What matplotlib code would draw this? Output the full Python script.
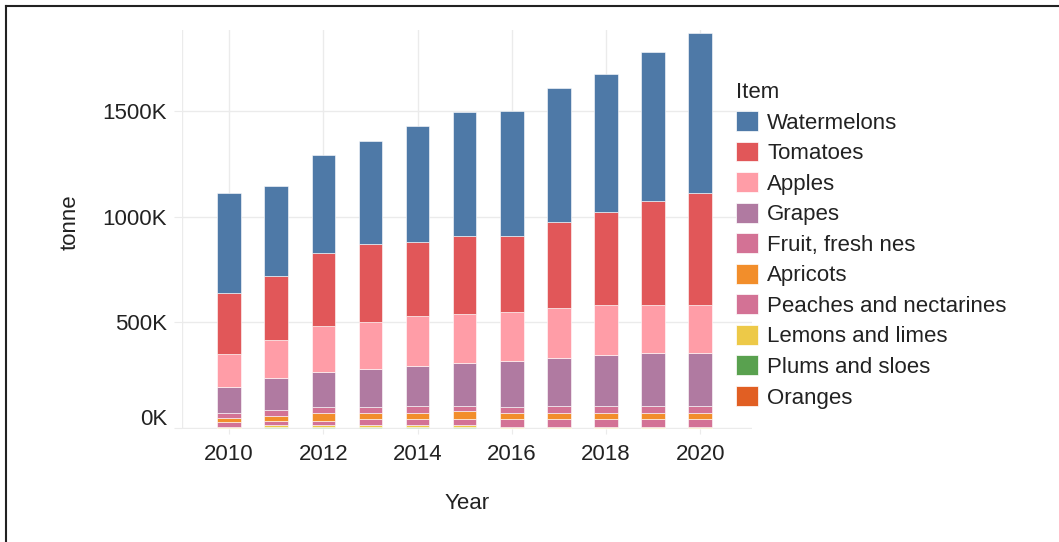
import numpy as np
import matplotlib
matplotlib.use("Agg")
import matplotlib.pyplot as plt
from matplotlib.patches import Patch
from matplotlib.lines import Line2D
from matplotlib.ticker import FuncFormatter
import matplotlib.transforms as mtransforms

plt.rcParams['font.family'] = ['Liberation Sans', 'DejaVu Sans']

# values in thousand tonnes
years = [2010, 2011, 2012, 2013, 2014, 2015, 2016, 2017, 2018, 2019, 2020]
watermelons = [476, 426, 464, 487, 550, 590, 592, 635, 650, 707, 757]
tomatoes = [288, 303, 346, 368, 348, 368, 360, 404, 441, 491, 528]
apples = [159, 180, 216, 224, 238, 230, 230, 238, 238, 230, 230]
grapes = [123, 151, 166, 180, 188, 204, 218, 226, 240, 248, 248]
fruit_nes = [21, 29, 30, 30, 36, 26, 30, 36, 36, 36, 36]
apricots = [21, 22, 35, 28, 28, 38, 28, 28, 28, 28, 28]
peaches = [21, 20, 20, 27, 27, 27, 35, 35, 35, 35, 35]
lemons = [4, 8, 8, 8, 8, 8, 5, 5, 5, 5, 5]
plums = [0.5, 5, 5, 5, 5, 5, 0, 0, 0, 0, 0]
oranges = [1, 1, 1, 1, 1, 1, 1, 1, 1, 1, 1]

items = ['Watermelons', 'Tomatoes', 'Apples', 'Grapes', 'Fruit, fresh nes', 'Apricots',
         'Peaches and nectarines', 'Lemons and limes', 'Plums and sloes', 'Oranges']
series = [watermelons, tomatoes, apples, grapes, fruit_nes, apricots,
          peaches, lemons, plums, oranges]
colors = ['#4e79a7', '#e15759', '#ff9da7', '#b07aa1', '#d37295', '#f28e2b',
          '#d37295', '#edc948', '#59a14f', '#e15f23']

fig = plt.figure(figsize=(10.59, 5.42), dpi=100)
ax = fig.add_axes([182 / 1059, 1 - 429 / 542, (752 - 182) / 1059, (429 - 30) / 542])

x = np.array(years)
bottom = np.zeros(len(years))
# stack from the bottom (Oranges) up to Watermelons
for name, vals, col in reversed(list(zip(items, series, colors))):
    v = np.array(vals, dtype=float) * 1000
    ax.bar(x, v, width=0.5, bottom=bottom, color=col, edgecolor='white',
           linewidth=0.4, zorder=2)
    bottom += v

ax.set_xlim(2009, 2021.1)
ax.set_ylim(-5000, 1884000)
ax.set_xticks([2010, 2012, 2014, 2016, 2018, 2020])
ax.set_yticks([0, 500000, 1000000, 1500000])
ax.yaxis.set_major_formatter(FuncFormatter(lambda v, p: f"{v / 1000:.0f}K"))
ax.grid(True, color='#ebebeb', linewidth=1, zorder=0)
ax.axvline(2009, color='#ebebeb', linewidth=1, zorder=0)
for s in ax.spines.values():
    s.set_visible(False)
ax.tick_params(axis='y', length=5.8, color='#ebebeb', pad=5, labelsize=16, labelcolor='#222222')
ax.tick_params(axis='x', length=3.6, color='#ebebeb', pad=7, labelsize=16, labelcolor='#222222')

# the 0K label sits a bit above the baseline in the original
lab0 = ax.get_yticklabels()[0]
lab0.set_transform(lab0.get_transform() + mtransforms.ScaledTranslation(0, 11 / 100, fig.dpi_scale_trans))

ax.set_xlabel('Year', fontsize=16, color='#222222', labelpad=20)
ax.set_ylabel('tonne', fontsize=16, color='#222222')
ax.yaxis.set_label_coords(81 / 1059, 1 - 222 / 542, transform=fig.transFigure)

handles = [Patch(facecolor=c, edgecolor='white', linewidth=0.5) for c in colors]
leg = ax.legend(handles, items, title='Item', loc='upper left',
                bbox_to_anchor=(736 / 1059, 1 - 82 / 542), bbox_transform=fig.transFigure,
                frameon=False, fontsize=16, title_fontsize=16, alignment='left',
                handlelength=1.0, handleheight=1.0, handletextpad=0.4,
                labelspacing=0.36, borderpad=0, borderaxespad=0)
for t in leg.get_texts():
    t.set_color('#222222')
leg.get_title().set_color('#222222')

# screenshot frame on top and left
fig.add_artist(Line2D([5.5 / 1059, 5.5 / 1059], [0, 1 - 6 / 542], color='#222222', linewidth=1.5))
fig.add_artist(Line2D([5.5 / 1059, 1], [1 - 6 / 542, 1 - 6 / 542], color='#222222', linewidth=1.5))

fig.savefig('out.png', dpi=100)
